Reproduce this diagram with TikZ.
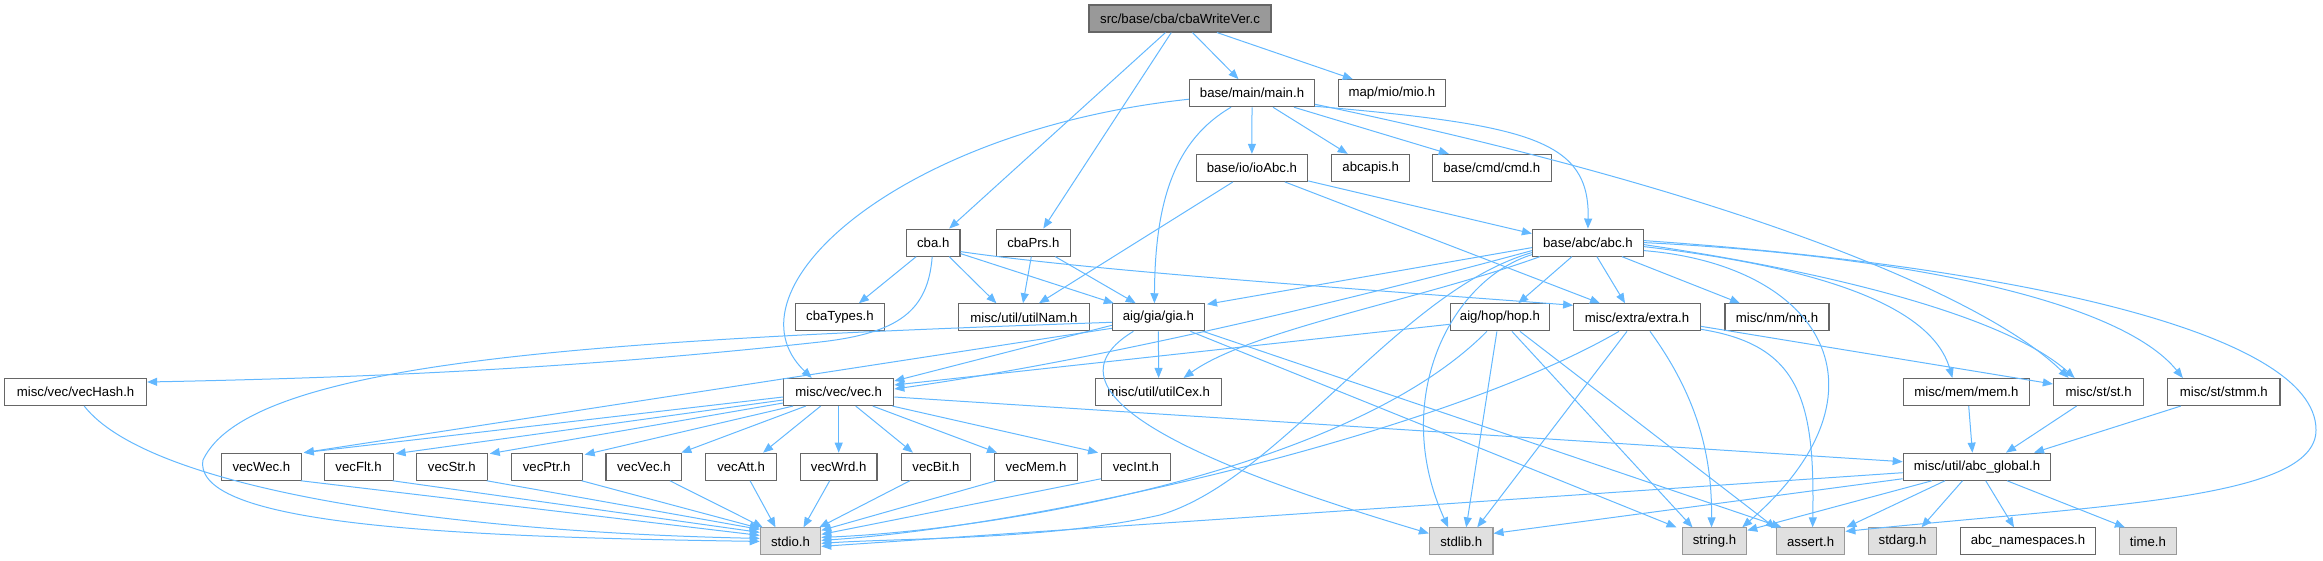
\documentclass[tikz,border=0pt]{standalone}
\usepackage{fontspec}
\setmainfont{Liberation Sans}
\usetikzlibrary{arrows.meta,calc}
\definecolor{edgeblue}{HTML}{63B8FF}
\definecolor{boxgray}{HTML}{666666}
\definecolor{sysgray}{HTML}{999999}
\definecolor{sysfill}{HTML}{E0E0E0}
\definecolor{rootfill}{HTML}{999999}
\begin{document}
\begin{tikzpicture}[x=1pt,y=-1pt,
  box/.style={draw=boxgray, fill=white, line width=1.1pt, minimum height=27pt, inner sep=0pt, font=\fontsize{13.2}{15}\selectfont, text=black},
  sys/.style={box, draw=sysgray, fill=sysfill},
  rootbox/.style={box, fill=rootfill},
  dep/.style={draw=edgeblue, line width=1pt, -{Triangle[length=10pt,width=8pt]}}]
\useasboundingbox (0,0) rectangle (2323,560);
% row 0
\node[rootbox, minimum width=182pt] (root) at (1180,18.5) {src/base/cba/cbaWriteVer.c};
% row 1
\node[box, minimum width=124.7pt] (main) at (1252,93.2) {base/main/main.h};
\node[box, minimum width=107.5pt] (mio) at (1391.8,93.2) {map/mio/mio.h};
% row 2
\node[box, minimum width=111.7pt] (ioAbc) at (1251.9,167.9) {base/io/ioAbc.h};
\node[box, minimum width=77.7pt] (abcapis) at (1370.7,167.9) {abcapis.h};
\node[box, minimum width=118.6pt] (cmd) at (1491.8,167.9) {base/cmd/cmd.h};
% row 3
\node[box, minimum width=53.6pt] (cba) at (933.2,242.6) {cba.h};
\node[box, minimum width=73.8pt] (cbaPrs) at (1033.3,242.6) {cbaPrs.h};
\node[box, minimum width=110.9pt] (abc) at (1587.9,242.6) {base/abc/abc.h};
% row 4
\node[box, minimum width=88.7pt] (cbaTypes) at (839.9,317.3) {cbaTypes.h};
\node[box, minimum width=130.9pt] (utilNam) at (1024,317.3) {misc/util/utilNam.h};
\node[box, minimum width=92.1pt] (gia) at (1158.4,317.3) {aig/gia/gia.h};
\node[box, minimum width=99.5pt] (hop) at (1499.9,317.3) {aig/hop/hop.h};
\node[box, minimum width=126.7pt] (extra) at (1637,317.3) {misc/extra/extra.h};
\node[box, minimum width=104pt] (nm) at (1777,317.3) {misc/nm/nm.h};
% row 5
\node[box, minimum width=142pt] (vecHash) at (75.6,392) {misc/vec/vecHash.h};
\node[box, minimum width=110.2pt] (vec) at (838.7,392) {misc/vec/vec.h};
\node[box, minimum width=126pt] (utilCex) at (1158.6,392) {misc/util/utilCex.h};
\node[box, minimum width=126.4pt] (mem) at (1966.4,392) {misc/mem/mem.h};
\node[box, minimum width=90.4pt] (st) at (2098.6,392) {misc/st/st.h};
\node[box, minimum width=112.3pt] (stmm) at (2223.8,392) {misc/st/stmm.h};
% row 6
\node[box, minimum width=79.6pt] (vecWec) at (261.4,466.7) {vecWec.h};
\node[box, minimum width=68.9pt] (vecFlt) at (358.6,466.7) {vecFlt.h};
\node[box, minimum width=70.8pt] (vecStr) at (451.8,466.7) {vecStr.h};
\node[box, minimum width=70.8pt] (vecPtr) at (546.7,466.7) {vecPtr.h};
\node[box, minimum width=75.8pt] (vecVec) at (643.9,466.7) {vecVec.h};
\node[box, minimum width=70.4pt] (vecAtt) at (741.1,466.7) {vecAtt.h};
\node[box, minimum width=76.6pt] (vecWrd) at (838.7,466.7) {vecWrd.h};
\node[box, minimum width=69.6pt] (vecBit) at (935.9,466.7) {vecBit.h};
\node[box, minimum width=82.2pt] (vecMem) at (1036,466.7) {vecMem.h};
\node[box, minimum width=68.5pt] (vecInt) at (1135.9,466.7) {vecInt.h};
\node[box, minimum width=147.6pt] (abcg) at (1977,466.7) {misc/util/abc\_global.h};
% row 7
\node[sys, minimum width=60.4pt] (stdio) at (790.5,541.4) {stdio.h};
\node[sys, minimum width=63.6pt] (stdlib) at (1461.2,541.4) {stdlib.h};
\node[sys, minimum width=64.3pt] (string) at (1714.5,541.4) {string.h};
\node[sys, minimum width=68.5pt] (assert) at (1810.6,541.4) {assert.h};
\node[sys, minimum width=68.4pt] (stdarg) at (1902.5,541.4) {stdarg.h};
\node[box, minimum width=134.2pt] (abcns) at (2028,541.4) {abc\_namespaces.h};
\node[sys, minimum width=57.2pt] (time) at (2147.9,541.4) {time.h};

% root
\draw[dep] ($(root.south)+(-14.5,0)$) -- ($(cba.north)+(16,0)$);
\draw[dep] ($(root.south)+(-8.7,0)$) -- ($(cbaPrs.north)+(10,0)$);
\draw[dep] ($(root.south)+(12.5,0)$) -- ($(main.north)+(-13.5,0)$);
\draw[dep] ($(root.south)+(37,0)$) -- ($(mio.north)+(-39,0)$);
% main
\draw[dep] (main.south) -- (ioAbc.north);
\draw[dep] ($(main.south)+(21,0)$) -- ($(abcapis.north)+(-23,0)$);
\draw[dep] ($(main.south)+(42,0)$) -- ($(cmd.north)+(-43,0)$);
\draw[dep] ($(main.south east)+(0,-1)$) .. controls (1530,125) and (1590,140) .. (abc.north);
\draw[dep] ($(main.south east)+(0,-3)$) .. controls (1750,195) and (1990,300) .. ($(st.north)+(-30,0)$);
\draw[dep] ($(main.south)+(-21,0)$) .. controls (1175,140) and (1155,200) .. ($(gia.north)+(-4,0)$);
\draw[dep] ($(main.west)+(0,6)$) .. controls (900,130) and (720,290) .. ($(vec.north)+(-27,0)$);
% ioAbc
\draw[dep] ($(ioAbc.south)+(-19,0)$) -- ($(utilNam.north)+(15,0)$);
\draw[dep] ($(ioAbc.south east)+(0,-1)$) -- ($(abc.west)+(0,-9)$);
\draw[dep] ($(ioAbc.south)+(33,0)$) -- ($(extra.north)+(-37,0)$);
% cba
\draw[dep] ($(cba.south)+(-17,0)$) -- ($(cbaTypes.north)+(19,0)$);
\draw[dep] ($(cba.south)+(-1,0)$) .. controls (928,310) and (900,333) .. (820,342) .. controls (600,366) and (400,377) .. ($(vecHash.east)+(0,-10)$);
\draw[dep] ($(cba.south)+(16,0)$) -- ($(utilNam.north)+(-27.6,0)$);
\draw[dep] ($(cba.east)+(0,11)$) -- ($(gia.north west)+(2,0)$);
\draw[dep] ($(cba.east)+(0,9)$) .. controls (1100,272) and (1400,292) .. ($(extra.west)+(0,-12)$);
% cbaPrs
\draw[dep] ($(cbaPrs.south)+(-2,0)$) -- ($(utilNam.north)+(-1,0)$);
\draw[dep] ($(cbaPrs.south)+(22,0)$) -- ($(gia.north)+(-22.7,0)$);
% abc
\draw[dep] ($(abc.south)+(-16,0)$) -- ($(hop.north)+(18.4,0)$);
\draw[dep] ($(abc.south)+(9,0)$) -- ($(extra.north)+(-12,0)$);
\draw[dep] ($(abc.south)+(34,0)$) -- ($(nm.north)+(-37,0)$);
\draw[dep] ($(abc.west)+(0,5)$) -- ($(gia.north east)+(2,1)$);
\draw[dep] ($(abc.west)+(0,8)$) .. controls (1350,300) and (1100,360) .. ($(vec.east)+(0,-3)$);
\draw[dep] ($(abc.south west)+(8,0)$) .. controls (1420,300) and (1250,330) .. ($(utilCex.north)+(25,0)$);
\draw[dep] ($(abc.west)+(0,10)$) .. controls (1400,290) and (1280,480) .. (1160,515) .. controls (1050,540) and (900,538) .. ($(stdio.east)+(0,2)$);
\draw[dep] ($(abc.south west)+(0,-2)$) .. controls (1450,280) and (1390,400) .. ($(stdlib.north)+(-13,0)$);
\draw[dep] ($(abc.east)+(0,4)$) .. controls (1800,265) and (1930,300) .. ($(mem.north)+(-14,0)$);
\draw[dep] ($(abc.east)+(0,2)$) .. controls (1850,275) and (2010,320) .. ($(st.north)+(-24,0)$);
\draw[dep] ($(abc.east)+(0,0)$) .. controls (1900,255) and (2120,300) .. ($(stmm.north)+(-41,0)$);
\draw[dep] ($(abc.east)+(0,8)$) .. controls (1820,265) and (1900,390) .. ($(string.north east)+(-5,0)$);
\draw[dep] ($(abc.east)+(0,-2)$) .. controls (2000,265) and (2316,330) .. (2316,430) .. controls (2316,500) and (2100,505) .. ($(assert.east)+(0,-10)$);
% hop
\draw[dep] ($(hop.west)+(0,7)$) -- ($(vec.east)+(0,-7)$);
\draw[dep] ($(hop.south)+(-13,0)$) .. controls (1350,470) and (1000,530) .. ($(stdio.east)+(0,-4)$);
\draw[dep] ($(hop.south)+(-3,0)$) -- ($(stdlib.north)+(5,0)$);
\draw[dep] ($(hop.south)+(12,0)$) -- ($(string.north)+(-22,0)$);
\draw[dep] ($(hop.south)+(20,0)$) -- ($(assert.north west)+(0,1)$);
% extra
\draw[dep] ($(extra.south)+(-18,0)$) .. controls (1450,430) and (1050,525) .. ($(stdio.east)+(0,-1)$);
\draw[dep] ($(extra.south)+(-10,0)$) -- ($(stdlib.north)+(16,0)$);
\draw[dep] ($(extra.south)+(13,0)$) .. controls (1700,400) and (1712,460) .. ($(string.north)+(-3,0)$);
\draw[dep] ($(extra.east)+(0,9)$) -- ($(st.west)+(0,-8)$);
\draw[dep] ($(extra.east)+(0,12)$) .. controls (1800,345) and (1815,400) .. ($(assert.north)+(2,0)$);
% gia
\draw[dep] ($(gia.west)+(0,8)$) -- ($(vec.east)+(0,-11)$);
\draw[dep] ($(gia.west)+(0,11)$) -- ($(vecWec.north east)+(2,0)$);
\draw[dep] ($(gia.west)+(0,5)$) .. controls (600,340) and (250,360) .. (203,460) .. controls (192,525) and (450,537) .. ($(stdio.west)+(0,0)$);
\draw[dep] (gia.south) -- (utilCex.north);
\draw[dep] ($(gia.south)+(-25,0)$) .. controls (1020,400) and (1250,480) .. ($(stdlib.west)+(0,-8)$);
\draw[dep] ($(gia.south)+(32,0)$) -- ($(string.north)+(-38,0)$);
\draw[dep] ($(gia.south east)+(-2,0)$) -- ($(assert.north)+(-29,0)$);
% vec
\draw[dep] ($(vec.west)+(0,5)$) -- ($(vecWec.north east)+(2,0)$);
\draw[dep] ($(vec.west)+(0,8)$) -- ($(vecFlt.north east)+(2,1)$);
\draw[dep] ($(vec.west)+(0,11)$) -- ($(vecStr.north east)+(2,1)$);
\draw[dep] ($(vec.south west)+(10,0)$) -- ($(vecPtr.north east)+(2,2)$);
\draw[dep] ($(vec.south)+(-33,0)$) -- ($(vecVec.north east)+(-1,0)$);
\draw[dep] ($(vec.south)+(-18,0)$) -- ($(vecAtt.north)+(22,0)$);
\draw[dep] (vec.south) -- (vecWrd.north);
\draw[dep] ($(vec.south)+(17,0)$) -- ($(vecBit.north)+(-23,0)$);
\draw[dep] ($(vec.south)+(34,0)$) -- ($(vecMem.north)+(-39,0)$);
\draw[dep] ($(vec.south east)+(-2,0)$) -- ($(vecInt.north west)+(-3,0)$);
\draw[dep] ($(vec.east)+(0,5)$) -- ($(abcg.west)+(0,-5)$);
% vec* -> stdio
\draw[dep] ($(vecHash.south)+(8.6,0)$) .. controls (150,490) and (450,532) .. ($(stdio.west)+(0,-3)$);
\draw[dep] ($(vecWec.south east)+(-1,0)$) -- ($(stdio.west)+(0,-6)$);
\draw[dep] ($(vecFlt.south east)+(-1,0)$) -- ($(stdio.west)+(0,-9)$);
\draw[dep] ($(vecStr.south east)+(-1,0)$) -- ($(stdio.west)+(0,-12)$);
\draw[dep] ($(vecPtr.south east)+(-1,0)$) -- ($(stdio.north west)+(0,1)$);
\draw[dep] ($(vecVec.south)+(26,0)$) -- ($(stdio.north west)+(3,0)$);
\draw[dep] ($(vecAtt.south)+(9,0)$) -- ($(stdio.north)+(-15,0)$);
\draw[dep] ($(vecWrd.south)+(-9,0)$) -- ($(stdio.north)+(13,0)$);
\draw[dep] ($(vecBit.south)+(-26,0)$) -- ($(stdio.north east)+(-2,0)$);
\draw[dep] ($(vecMem.south west)+(2,0)$) -- ($(stdio.east)+(0,-11)$);
\draw[dep] ($(vecInt.south west)+(0,-2)$) -- ($(stdio.east)+(0,-7)$);
% abc_global
\draw[dep] ($(abcg.west)+(0,6)$) -- ($(stdio.east)+(0,5)$);
\draw[dep] ($(abcg.south west)+(0,-2)$) -- ($(stdlib.east)+(0,-8)$);
\draw[dep] ($(abcg.south)+(-45,0)$) -- ($(string.east)+(0,-11)$);
\draw[dep] ($(abcg.south)+(-32,0)$) -- ($(assert.north east)+(1,0)$);
\draw[dep] ($(abcg.south)+(-14.5,0)$) -- ($(stdarg.north)+(19,0)$);
\draw[dep] ($(abcg.south)+(8.7,0)$) -- ($(abcns.north)+(-14,0)$);
\draw[dep] ($(abcg.south)+(30,0)$) -- ($(time.north)+(-23,0)$);
% mem, st, stmm
\draw[dep] ($(mem.south)+(2.3,0)$) -- ($(abcg.north)+(-4.6,0)$);
\draw[dep] ($(st.south)+(-22,0)$) -- ($(abcg.north)+(29,0)$);
\draw[dep] ($(stmm.south)+(-43,0)$) -- ($(abcg.north)+(57,0)$);
\end{tikzpicture}
\end{document}
